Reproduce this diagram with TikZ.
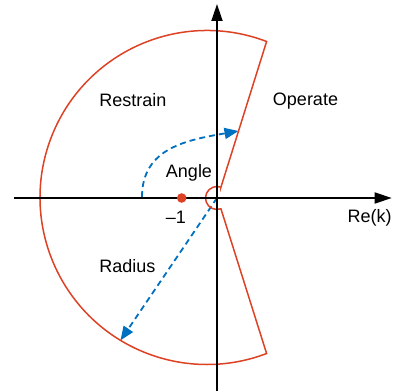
\documentclass[tikz,border=0pt]{standalone}
\usepackage{fontspec}
\setmainfont{Liberation Sans}
\usetikzlibrary{arrows.meta}
\definecolor{relred}{RGB}{222,66,36}
\definecolor{relblue}{RGB}{0,112,192}
\begin{document}
\begin{tikzpicture}[x=1pt,y=1pt,
  axis/.style={line width=1.8pt,-{Triangle[length=17pt,width=11pt]}},
  region/.style={relred,line width=1.5pt,line join=miter},
  dasharrow/.style={relblue,line width=1.8pt,dash pattern=on 6pt off 4pt,-{Triangle[length=14pt,width=11pt]}},
  lbl/.style={font=\fontsize{18}{20}\selectfont,inner sep=0pt,anchor=base}]
\useasboundingbox (-217,-193) rectangle (176,198);
\coordinate (O) at (0,0);
\coordinate (angstart) at (-75,1);
\coordinate (angend) at (21.5,67);
\coordinate (radend) at (-96.5,-142.4);
% blue dashed arrows
\draw[dasharrow] (angstart) .. controls (-75,50) and (-30,58) .. (angend);
\draw[dasharrow] (O) -- (radend);
% characteristic region
\draw[region] (3.93,10.8) coordinate (p1) -- (49.6,156.5) coordinate (tr)
  arc[start angle=69.1,end angle=290.9,radius=167] coordinate (br)
  -- (3.93,-10.8) coordinate (p2)
  arc[start angle=-70,end angle=-290,radius=11.5] -- cycle;
% axes
\coordinate (xl) at (-203,0);
\coordinate (xr) at (174.7,0);
\coordinate (yb) at (0,-193);
\coordinate (yt) at (0,194);
\draw[axis] (xl) -- (xr);
\draw[axis] (yb) -- (yt);
% point -1
\node[circle,fill=relred,inner sep=0pt,minimum size=9.6pt] (dot) at (-35.3,0) {};
% labels
\node[lbl] (restrain) at (-84.2,92) {Restrain};
\node[lbl] (operate) at (88.5,92.7) {Operate};
\node[lbl] (angle) at (-28,20.7) {Angle};
\node[lbl] (radius) at (-89.5,-74.7) {Radius};
\node[lbl] (rek) at (152.7,-24.7) {Re(k)};
\node[lbl] (m1) at (-41,-25.3) {–1};
\end{tikzpicture}
\end{document}
